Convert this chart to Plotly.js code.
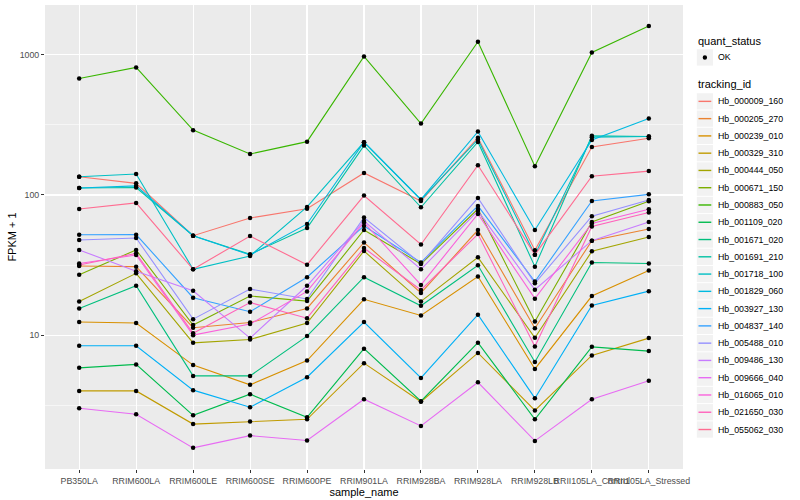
<!DOCTYPE html>
<html>
<head>
<meta charset="utf-8">
<script src="https://cdn.plot.ly/plotly-3.0.1.min.js"></script>
<style>html,body{margin:0;padding:0;background:#fff}#chart{width:800px;height:500px}</style>
</head>
<body>
<div id="chart"></div>
<script>
// ---- data ----
const samples = ["PB350LA","RRIM600LA","RRIM600LE","RRIM600SE","RRIM600PE","RRIM901LA","RRIM928BA","RRIM928LA","RRIM928LB","RRII105LA_Control","RRII105LA_Stressed"];
const trackingIds = ["Hb_000009_160","Hb_000205_270","Hb_000239_010","Hb_000329_310","Hb_000444_050","Hb_000671_150","Hb_000883_050","Hb_001109_020","Hb_001671_020","Hb_001691_210","Hb_001718_100","Hb_001829_060","Hb_003927_130","Hb_004837_140","Hb_005488_010","Hb_009486_130","Hb_009666_040","Hb_016065_010","Hb_021650_030","Hb_055062_030"];
const colors = ["#F8766D","#EA8331","#D89000","#C09B00","#A3A500","#7CAE00","#39B600","#00BB4E","#00BF7D","#00C1A3","#00BFC4","#00BAE0","#00B0F6","#35A2FF","#9590FF","#C77CFF","#E76BF3","#FA62DB","#FF62BC","#FF6C91"];

const Hb_000009_160 = [135,121,51.2,68.5,79.8,143.5,90.6,256,40.3,220,254];
const Hb_000205_270 = [31.1,30.8,11.3,12.3,15.5,45.8,20.0,56.2,11.2,47.2,57.2];
const Hb_000239_010 = [12.4,12.2,6.11,4.42,6.59,18.0,13.8,26.2,5.74,19.0,28.9];
const Hb_000329_310 = [4.00,4.00,2.32,2.42,2.51,6.31,3.35,7.47,2.90,7.16,9.52];
const Hb_000444_050 = [17.4,27.6,8.81,9.31,12.2,39.8,17.4,35.9,9.57,39.6,50.1];
const Hb_000671_150 = [27.0,40.5,11.8,19.0,17.5,56.2,32.2,79.4,12.5,64.1,90.2];
const Hb_000883_050 = [678,812,290,196,240,973,323,1239,160,1038,1603];
const Hb_001109_020 = [5.84,6.18,2.68,3.79,2.59,8.01,3.38,8.84,2.51,8.25,7.69];
const Hb_001671_020 = [15.5,22.5,5.12,5.12,9.84,25.9,16.2,31.5,6.44,33.0,32.4];
const Hb_001691_210 = [112,113,51.2,37.7,58.1,225,81.7,239,30.8,264,261];
const Hb_001718_100 = [135,141,29.5,36.7,82.1,238,92.1,249,37.5,258,261];
const Hb_001829_060 = [112,116,51.2,37.3,62.1,238,92.9,283,56.2,247,351];
const Hb_003927_130 = [8.39,8.39,4.05,3.06,5.01,12.4,4.95,14.0,3.55,16.3,20.6];
const Hb_004837_140 = [52.0,52.1,18.5,14.7,25.9,60.1,33.0,83.5,24.1,90.6,101];
const Hb_005488_010 = [47.7,49.3,13.0,21.3,18.1,69.1,32.4,95.2,23.4,70.5,92.1];
const Hb_009486_130 = [40.5,28.6,20.7,9.52,22.5,65.2,29.5,76.9,21.1,47.2,64.1];
const Hb_009666_040 = [3.01,2.73,1.57,1.92,1.77,3.49,2.25,4.61,1.76,3.49,4.72];
const Hb_016065_010 = [32.4,37.3,10.0,12.0,20.5,63.6,22.8,73.1,18.2,62.6,79.0];
const Hb_021650_030 = [31.6,38.3,10.3,17.1,13.2,41.8,21.0,52.6,8.30,59.6,75.0];
const Hb_055062_030 = [79.4,87.7,29.5,50.9,31.8,98.9,44.3,163,37.5,136,148];

const series = [Hb_000009_160,Hb_000205_270,Hb_000239_010,Hb_000329_310,Hb_000444_050,Hb_000671_150,Hb_000883_050,Hb_001109_020,Hb_001671_020,Hb_001691_210,Hb_001718_100,Hb_001829_060,Hb_003927_130,Hb_004837_140,Hb_005488_010,Hb_009486_130,Hb_009666_040,Hb_016065_010,Hb_021650_030,Hb_055062_030];
const quantStatus = "OK";
const yTickVals = [10,100,1000];
const yMinorVals = [3.1623,31.623,316.23];

// ---- geometry (pixels) ----
const W = 800, H = 500;
const plotL = 45, plotR = 683.5, plotT = 5, plotB = 468.7;
const pxX = p => (p - plotL) / (plotR - plotL);
const pxY = p => (plotB - p) / (plotB - plotT);

// ---- traces ----
const traces = [];
series.forEach((vals, i) => {
  traces.push({
    type: "scatter", mode: "lines", x: samples, y: vals,
    name: trackingIds[i], showlegend: false,
    line: {color: colors[i], width: 1.1}, hoverinfo: "x+y+name"
  });
});
const px = [], py = [];
series.forEach(vals => vals.forEach((v, j) => { px.push(samples[j]); py.push(v); }));
traces.push({
  type: "scatter", mode: "markers", x: px, y: py, name: quantStatus,
  showlegend: false, marker: {color: "#000", size: 4.5}
});

// ---- manual ggplot-style legend ----
const fam = "Liberation Sans, Arial, Helvetica, sans-serif";
const shapes = [], annotations = [];
const keyX0 = 697.3, keyX1 = 713.5, textX = 716.5;
// quant_status
annotations.push({xref:"paper", yref:"paper", x:pxX(696.5), y:pxY(40.5), xanchor:"left", yanchor:"middle",
  text:"quant_status", showarrow:false, font:{family:fam, size:11, color:"#000"}});
shapes.push({type:"rect", xref:"paper", yref:"paper", x0:pxX(keyX0), x1:pxX(keyX1), y0:pxY(49.2), y1:pxY(65.6),
  fillcolor:"#F2F2F2", line:{width:0}, layer:"above"});
shapes.push({type:"circle", xref:"paper", yref:"paper", xsizemode:"pixel", ysizemode:"pixel",
  xanchor:pxX(705.4), yanchor:pxY(57.4), x0:-2.2, x1:2.2, y0:-2.2, y1:2.2,
  fillcolor:"#000", line:{width:0}, layer:"above"});
annotations.push({xref:"paper", yref:"paper", x:pxX(textX), y:pxY(57.4), xanchor:"left", yanchor:"middle",
  text:quantStatus, showarrow:false, font:{family:fam, size:8.8, color:"#000"}});
// tracking_id
annotations.push({xref:"paper", yref:"paper", x:pxX(696.5), y:pxY(84.3), xanchor:"left", yanchor:"middle",
  text:"tracking_id", showarrow:false, font:{family:fam, size:11, color:"#000"}});
const legY0 = 101.3, legStep = 17.26;
trackingIds.forEach((id, i) => {
  const cy = legY0 + i * legStep;
  shapes.push({type:"rect", xref:"paper", yref:"paper", x0:pxX(keyX0), x1:pxX(keyX1),
    y0:pxY(cy - legStep/2 + 0.5), y1:pxY(cy + legStep/2 - 0.5),
    fillcolor:"#F2F2F2", line:{width:0}, layer:"above"});
  shapes.push({type:"line", xref:"paper", yref:"paper", x0:pxX(699), x1:pxX(711.8), y0:pxY(cy), y1:pxY(cy),
    line:{color:colors[i], width:1.4}, layer:"above"});
  annotations.push({xref:"paper", yref:"paper", x:pxX(textX), y:pxY(cy), xanchor:"left", yanchor:"middle",
    text:id, showarrow:false, font:{family:fam, size:8.8, color:"#000"}});
});

const layout = {
  width: W, height: H,
  margin: {l: plotL, r: W - plotR, t: plotT, b: H - plotB},
  paper_bgcolor: "#FFFFFF", plot_bgcolor: "#EBEBEB",
  font: {family: fam, color: "#4D4D4D", size: 9},
  showlegend: false,
  xaxis: {
    type: "category", categoryorder: "array", categoryarray: samples,
    range: [-0.6, 10.6], tickangle: 0,
    showgrid: true, gridcolor: "#FFFFFF", gridwidth: 1.1, zeroline: false,
    ticks: "outside", ticklen: 3, tickcolor: "#333333", tickwidth: 1,
    tickfont: {family: fam, size: 8.8, color: "#4D4D4D"},
    title: {text: "sample_name", font: {family: fam, size: 11, color: "#000"}, standoff: 2},
    showline: false, automargin: false
  },
  yaxis: {
    type: "log", range: [0.045, 3.355],
    tickvals: yTickVals, ticktext: ["10","100","1000"],
    showgrid: true, gridcolor: "#FFFFFF", gridwidth: 1.1, zeroline: false,
    minor: {tickvals: yMinorVals, showgrid: true, gridcolor: "#FFFFFF", gridwidth: 0.55, ticks: ""},
    ticks: "outside", ticklen: 3, tickcolor: "#333333", tickwidth: 1,
    tickfont: {family: fam, size: 8.8, color: "#4D4D4D"},
    title: {text: "FPKM + 1", font: {family: fam, size: 11, color: "#000"}, standoff: 0},
    showline: false, automargin: false
  },
  shapes: shapes,
  annotations: annotations
};
Plotly.newPlot("chart", traces, layout, {displayModeBar: false, staticPlot: true});
</script>
</body>
</html>
